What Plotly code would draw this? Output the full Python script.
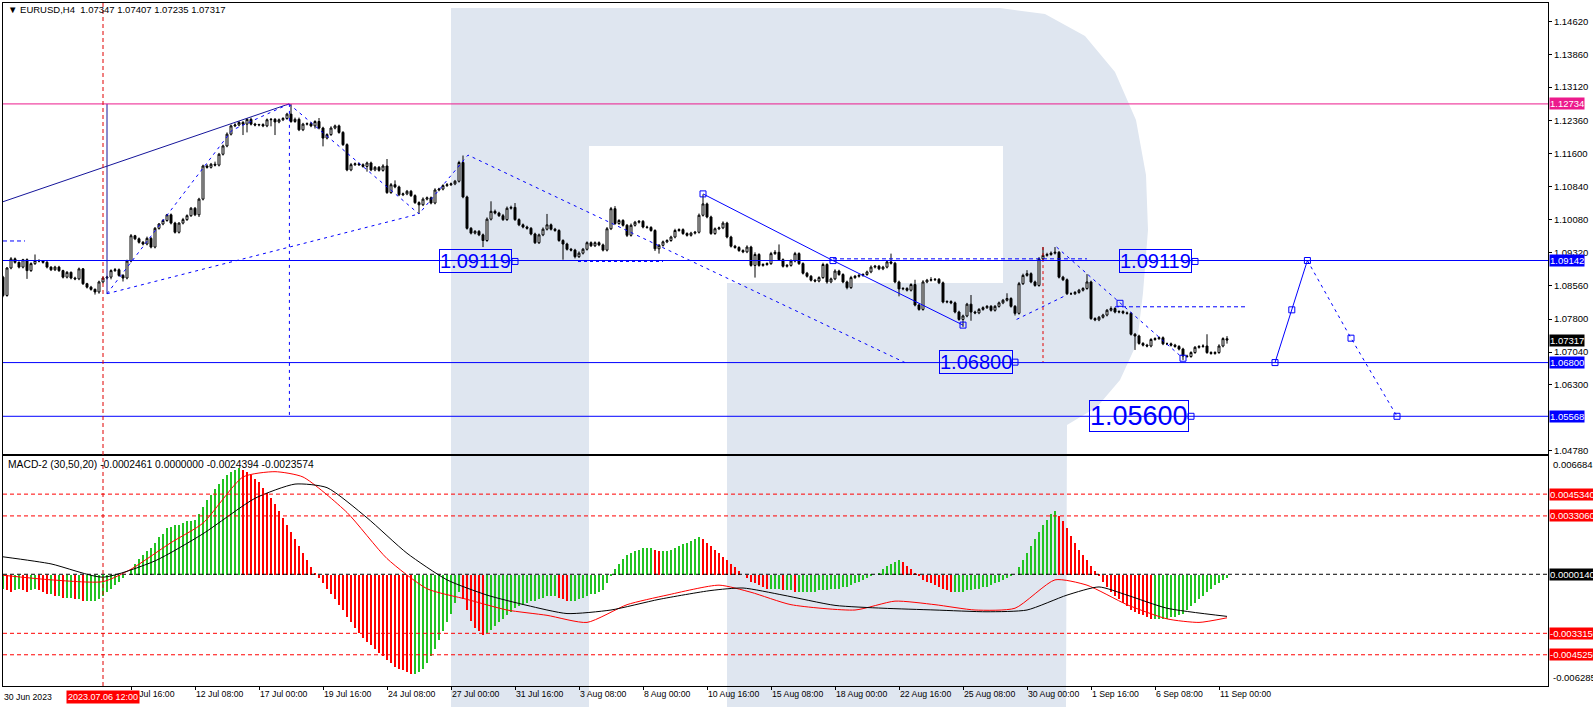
import plotly.graph_objects as go

# ---------------- data ----------------
# H4 candles, index 0 = 30 Jun 2023 00:00, 4-hour steps on trading days
first_index = 2
first_open = 1.0876
closes = [
    1.0834, 1.0897, 1.0918, 1.0910, 1.0899, 1.0916, 1.0891, 1.0907, 1.0914, 1.0913,
    1.0910, 1.0899, 1.0893, 1.0899, 1.0891, 1.0876, 1.0887, 1.0874, 1.0872, 1.0895,
    1.0861, 1.0853, 1.0848, 1.0842, 1.0865, 1.0874, 1.0876, 1.0891, 1.0893, 1.0880,
    1.0874, 1.0913, 1.0971, 1.0964, 1.0956, 1.0952, 1.0965, 1.0945, 1.0988, 1.0998,
    1.1006, 1.1019, 1.1000, 1.0979, 1.1000, 1.1008, 1.1017, 1.1034, 1.1019, 1.1055,
    1.1131, 1.1128, 1.1135, 1.1133, 1.1158, 1.1177, 1.1204, 1.1223, 1.1225, 1.1231,
    1.1227, 1.1238, 1.1227, 1.1225, 1.1226, 1.1223, 1.1237, 1.1238, 1.1232, 1.1237,
    1.1240, 1.1250, 1.1233, 1.1238, 1.1214, 1.1227, 1.1228, 1.1223, 1.1233, 1.1218,
    1.1195, 1.1203, 1.1218, 1.1223, 1.1208, 1.1180, 1.1122, 1.1134, 1.1136, 1.1134,
    1.1130, 1.1138, 1.1122, 1.1128, 1.1121, 1.1131, 1.1070, 1.1088, 1.1083, 1.1065,
    1.1067, 1.1073, 1.1063, 1.1047, 1.1042, 1.1055, 1.1058, 1.1046, 1.1076, 1.1078,
    1.1086, 1.1088, 1.1090, 1.1096, 1.1139, 1.1060, 1.0988, 1.0977, 1.0981, 1.0973,
    1.0960, 1.1009, 1.1027, 1.1023, 1.1017, 1.1008, 1.1034, 1.1036, 1.1008, 1.0996,
    1.0991, 1.0988, 1.0975, 1.0955, 1.0973, 1.0986, 1.0996, 1.0986, 1.0983, 1.0960,
    1.0952, 1.0940, 1.0938, 1.0923, 1.0931, 1.0940, 1.0955, 1.0948, 1.0955, 1.0950,
    1.0938, 1.0987, 1.1033, 1.0999, 1.1006, 1.0995, 1.0972, 1.0995, 1.1002, 1.1004,
    1.0991, 1.0990, 1.0983, 1.0941, 1.0949, 1.0957, 1.0960, 1.0968, 1.0983, 1.0985,
    1.0976, 1.0972, 1.0977, 1.0979, 1.1018, 1.1044, 1.1014, 1.0976, 1.0987, 1.0989,
    1.1000, 1.0968, 1.0947, 1.0944, 1.0937, 1.0934, 1.0945, 1.0903, 1.0928, 1.0903,
    1.0905, 1.0907, 1.0930, 1.0933, 1.0916, 1.0901, 1.0903, 1.0913, 1.0930, 1.0907,
    1.0885, 1.0878, 1.0869, 1.0867, 1.0875, 1.0905, 1.0865, 1.0872, 1.0890, 1.0882,
    1.0865, 1.0852, 1.0875, 1.0878, 1.0880, 1.0882, 1.0888, 1.0899, 1.0901, 1.0895,
    1.0899, 1.0911, 1.0908, 1.0865, 1.0849, 1.0850, 1.0846, 1.0859, 1.0812, 1.0802,
    1.0865, 1.0869, 1.0870, 1.0871, 1.0863, 1.0819, 1.0820, 1.0817, 1.0796, 1.0779,
    1.0787, 1.0814, 1.0796, 1.0794, 1.0802, 1.0806, 1.0809, 1.0800, 1.0809, 1.0817,
    1.0823, 1.0827, 1.0809, 1.0793, 1.0861, 1.0880, 1.0884, 1.0865, 1.0857, 1.0918,
    1.0926, 1.0928, 1.0931, 1.0933, 1.0876, 1.0870, 1.0838, 1.0838, 1.0841, 1.0846,
    1.0850, 1.0865, 1.0781, 1.0778, 1.0784, 1.0789, 1.0800, 1.0804, 1.0796, 1.0797,
    1.0794, 1.0793, 1.0745, 1.0741, 1.0724, 1.0720, 1.0718, 1.0733, 1.0735, 1.0737,
    1.0723, 1.0723, 1.0720, 1.0717, 1.0711, 1.0695, 1.0694, 1.0703, 1.0715, 1.0717,
    1.0718, 1.0703, 1.0701, 1.0703, 1.0718, 1.0735, 1.07317,
]
wick_up_pips = [
    3, 2, 4, 3, 2, 2, 3, 3, 14, 3,
    2, 3, 2, 3, 3, 2, 3, 2, 3, 3,
    2, 2, 3, 2, 3, 3, 3, 3, 4, 3,
    3, 3, 4, 2, 3, 3, 4, 3, 3, 2,
    3, 2, 3, 3, 2, 4, 3, 3, 3, 3,
    3, 4, 3, 6, 3, 3, 4, 3, 4, 3,
    3, 3, 4, 3, 2, 3, 3, 3, 3, 3,
    3, 3, 23, 4, 4, 3, 3, 4, 3, 8,
    3, 3, 4, 3, 3, 3, 3, 4, 3, 3,
    3, 3, 3, 3, 3, 4, 16, 4, 10, 3,
    3, 3, 3, 3, 3, 4, 3, 3, 4, 3,
    3, 4, 3, 3, 4, 16, 3, 3, 3, 3,
    3, 4, 23, 4, 3, 4, 4, 4, 10, 3,
    3, 3, 3, 3, 3, 4, 25, 3, 3, 3,
    3, 3, 3, 3, 4, 3, 3, 3, 3, 3,
    3, 4, 4, 6, 3, 3, 3, 4, 3, 3,
    3, 3, 3, 3, 3, 3, 3, 3, 4, 3,
    3, 3, 3, 3, 4, 22, 3, 3, 3, 3,
    4, 3, 3, 3, 3, 3, 4, 3, 5, 3,
    3, 3, 4, 5, 18, 3, 3, 4, 4, 3,
    3, 3, 3, 3, 3, 4, 3, 3, 4, 3,
    3, 3, 4, 3, 3, 3, 3, 4, 3, 3,
    3, 4, 19, 3, 3, 3, 3, 3, 11, 3,
    4, 3, 6, 3, 3, 3, 3, 3, 3, 3,
    3, 3, 21, 3, 3, 3, 3, 3, 3, 3,
    3, 12, 3, 3, 4, 4, 8, 3, 3, 4,
    19, 4, 4, 12, 3, 3, 3, 3, 3, 3,
    3, 18, 3, 3, 3, 3, 3, 5, 3, 3,
    3, 3, 3, 3, 3, 3, 3, 3, 3, 3,
    3, 3, 3, 3, 3, 3, 3, 3, 3, 3,
    4, 27, 3, 3, 4, 3, 6,
]
wick_dn_pips = [
    4, 3, 3, 3, 3, 3, 19, 3, 3, 3,
    3, 3, 3, 3, 3, 3, 3, 3, 3, 3,
    3, 3, 3, 6, 4, 3, 3, 5, 3, 3,
    8, 3, 3, 3, 3, 3, 3, 3, 3, 3,
    3, 3, 3, 3, 3, 3, 3, 3, 3, 5,
    3, 3, 3, 3, 3, 3, 3, 3, 3, 3,
    25, 19, 3, 3, 3, 3, 3, 15, 30, 3,
    3, 3, 3, 3, 3, 3, 3, 3, 6, 3,
    19, 3, 3, 3, 3, 3, 3, 3, 3, 3,
    3, 12, 3, 3, 3, 3, 3, 3, 3, 3,
    3, 3, 3, 3, 21, 3, 3, 3, 3, 3,
    3, 3, 3, 3, 3, 3, 3, 3, 3, 3,
    15, 3, 3, 3, 3, 3, 3, 3, 3, 3,
    3, 3, 3, 3, 3, 3, 3, 3, 3, 3,
    36, 3, 3, 4, 3, 3, 3, 3, 3, 3,
    3, 3, 3, 3, 3, 3, 4, 3, 3, 3,
    3, 3, 3, 5, 11, 3, 3, 3, 3, 3,
    3, 3, 3, 3, 3, 3, 3, 3, 3, 3,
    3, 3, 3, 3, 3, 3, 3, 3, 28, 3,
    3, 3, 3, 3, 3, 3, 3, 3, 3, 3,
    3, 3, 3, 3, 3, 3, 4, 3, 3, 3,
    3, 4, 3, 3, 3, 3, 3, 3, 3, 3,
    3, 3, 3, 3, 17, 3, 3, 3, 3, 3,
    3, 3, 3, 3, 3, 3, 3, 3, 3, 3,
    17, 3, 20, 3, 3, 3, 3, 3, 3, 3,
    3, 3, 3, 5, 3, 3, 3, 3, 3, 3,
    3, 3, 3, 3, 3, 3, 3, 3, 3, 3,
    3, 3, 3, 3, 3, 3, 3, 3, 3, 3,
    3, 3, 3, 32, 3, 3, 3, 3, 3, 3,
    3, 3, 3, 3, 3, 9, 3, 3, 3, 3,
    3, 3, 3, 3, 3, 3, 8,
]

# MACD-2 histogram per candle, in units of 1e-4
macd_hist_e4 = [
    -8, -9, -10, -9, -8, -9, -10, -9, -8, -9, -10,
    -11, -11, -12, -12, -13, -13, -13, -14, -14, -15, -15, -15, -15, -14,
    -12, -10, -8, -6, -4, -2, 0, 3,
    6, 9, 11, 13, 15, 18, 21, 23, 26, 27, 28, 28, 29, 30, 30, 31,
    34, 38, 42, 45, 48, 51, 54, 56, 58, 59, 60,
    59, 58, 56, 54, 52, 49, 46, 43, 40, 36, 32, 28, 24, 20, 16, 12, 8, 4, 1,
    -2, -5, -8, -11, -14, -17, -20, -24, -27, -30, -33, -36, -38, -40, -42, -44, -46, -48, -50, -52,
    -53, -54, -55, -56, -56, -55,
    -53, -50, -46, -42, -37, -32, -27, -22, -16, -10,
    -14, -20, -26, -30, -32, -34, -33, -31,
    -29, -27, -25, -23, -21, -19, -18, -17, -16, -15, -15, -14, -13, -12, -12, -12, -13, -14, -15, -15,
    -15, -14, -13, -12, -11, -11, -10, -9, -5,
    -1, 3, 6, 9, 11, 12, 13, 14, 15, 15, 15, 14, 13, 13, 13, 14, 15, 16, 17, 18, 19, 20, 21,
    20, 18, 16, 14, 12, 10, 8, 6, 4, 2, 0, -2, -4,
    -5, -6, -7, -8, -8, -8, -8, -9, -9, -9, -10, -10, -10, -10, -10, -10, -9, -9, -9, -8,
    -8, -8, -7, -7, -6, -5, -4, -3, -2, -1, 0, 1, 3,
    5, 6, 7, 8, 7, 5, 3, 1,
    -1, -3, -4, -5, -6, -7, -8, -9, -10, -10, -10, -10, -9, -9, -8, -8, -7, -7, -6, -5, -4, -3, -2, -1, 0,
    4, 8, 12, 16, 20, 24, 28, 31, 34, 36,
    33, 30, 26, 22, 18, 14, 11, 8, 5, 2, -1,
    -4, -7, -10, -12, -14, -16, -18, -20, -21, -22, -23, -24, -25, -25, -25, -25, -25, -24, -24, -23, -22,
    -20, -18, -16, -14, -12, -10, -8, -6, -5, -3, -2,
]
macd_black_idx = [2, 14, 27, 40, 52, 65, 75, 83, 93, 103, 113, 123, 133, 143, 154, 166, 179, 187,
                  197, 210, 222, 235, 248, 258, 268, 276, 283, 293, 308]
macd_black_e4 = [10, 6, -1.5, 7.7, 23, 43, 51, 49, 32, 12, -3, -11.6, -17.4, -22, -20, -14, -9, -7.6,
                 -11.6, -17.4, -19, -20, -21, -20, -11.6, -7, -11.6, -19, -23.6]
macd_red_idx = [2, 14, 27, 34, 44, 52, 62, 70, 77, 88, 98, 108, 118, 128, 138, 148, 158, 168, 181,
                189, 199, 215, 225, 235, 245, 255, 265, 273, 283, 293, 301, 308]
macd_red_e4 = [-0.4, -3, -4, 3, 18, 29, 55, 58, 55, 35, 9, -8, -14, -20, -23, -27, -17, -11.6, -6,
               -10, -17, -20, -15, -17, -20, -19, -3, -6, -17, -25, -27, -24.4]

# axes
price_min, price_max = 1.04703, 1.15049
price_ticks = [1.14620, 1.13860, 1.13120, 1.12360, 1.11600, 1.10840, 1.10080,
               1.09320, 1.08560, 1.07800, 1.07040, 1.06300, 1.04780]
price_tick_text = ["%.5f" % v for v in price_ticks]
macd_max, macd_min = 0.0066841, -0.0062857
date_tick_idx = [34, 50, 66, 82, 98, 114, 130, 146, 162, 178, 194, 210, 226, 242, 258, 274, 290, 306]
date_tick_text = ["7 Jul 16:00", "12 Jul 08:00", "17 Jul 00:00", "19 Jul 16:00", "24 Jul 08:00",
                  "27 Jul 00:00", "31 Jul 16:00", "3 Aug 08:00", "8 Aug 00:00", "10 Aug 16:00",
                  "15 Aug 08:00", "18 Aug 00:00", "22 Aug 16:00", "25 Aug 08:00", "30 Aug 00:00",
                  "1 Sep 16:00", "6 Sep 08:00", "11 Sep 00:00"]
x_range = [2, 388.25]

# horizontal levels
level_pink = 1.12734
levels_blue = [1.09142, 1.06800, 1.05568]
last_price = 1.07317
macd_levels_red = [0.0045340, 0.0033060, -0.0033150, -0.0045250]
macd_levels_red_text = ["0.0045340", "0.0033060", "-0.0033150", "-0.0045250"]
macd_level_zero = 0.0000140

# analyst drawings (candle index, price)
navy_line = ([2, 73.5], [1.1049, 1.12734])
navy_vert = ([28, 28], [1.12734, 1.0838])
wave_up = ([28, 59.25, 73.5], [1.0838, 1.1213, 1.12734])
wave_down = ([73.5, 106, 118.25, 227.5], [1.12734, 1.1021, 1.1156, 1.0680])
wave_base = ([28, 106], [1.0838, 1.1021])
top_vert = ([73.6, 73.6], [1.12734, 1.05568])
dotted_lvl1 = ([145.75, 167], [1.0912, 1.0912])
dotted_lvl2 = ([209.5, 273], [1.0918, 1.0918])
rise_dash = ([255.4, 267.9], [1.0779, 1.0835])
fall_dash = ([265.4, 281.25, 297], [1.0945, 1.0816, 1.0690])
dash_lvl3 = ([280, 313], [1.0808, 1.0808])
left_stub = ([2, 7.5], [1.0959, 1.0959])
channel_solid = ([177, 209.5, 242], [1.1067, 1.0914, 1.0766])
fcst_solid = ([320, 324.2, 328.1], [1.0680, 1.0801, 1.09142])
fcst_dash = ([328.1, 339, 350.5], [1.09142, 1.0736, 1.05568])
red_vert1_idx = 27
red_vert2 = ([262, 262], [1.0945, 1.0680])
marker_pts = ([177, 209.5, 242, 320, 324.2, 328.1, 339, 350.5, 281.25, 297, 130, 300, 255, 299],
              [1.1067, 1.0914, 1.0766, 1.0680, 1.0801, 1.09142, 1.0736, 1.05568, 1.0816, 1.0690,
               1.0912, 1.0912, 1.0681, 1.05568])
target_text = ["1.09119", "1.09119", "1.06800", "1.05600"]
target_x = [111, 281, 236, 273.5]
target_y = [1.0913, 1.0913, 1.0682, 1.05568]
target_size = [20, 20, 20, 27]

# ---------------- build ----------------
W, H = 1593, 707
ML, MR, MT, MB = 3, 45, 3, 21
PH = H - MT - MB


def paper_y(py):
    return (H - MB - py) / PH


def paper_x(px):
    return (px - ML) / (W - ML - MR)


idx = list(range(first_index, first_index + len(closes)))
opens = [first_open] + closes[:-1]
opens[-1] = 1.07347
highs = [max(o, c) + u * 1e-4 for o, c, u in zip(opens, closes, wick_up_pips)]
lows = [min(o, c) - d * 1e-4 for o, c, d in zip(opens, closes, wick_dn_pips)]
highs[-1], lows[-1] = 1.07407, 1.07235

hist = [v * 1e-4 for v in macd_hist_e4]
hist_idx = list(range(first_index, first_index + len(hist)))
hist_col = []
prev = None
for v in hist:
    hist_col.append("#22c322" if (prev is None or v >= prev) else "#ff0000")
    prev = v

FONT = "Liberation Sans, Arial, sans-serif"
BLUE = "#0000ff"
NAVY = "#15159a"
fig = go.Figure()

fig.add_trace(go.Candlestick(
    x=idx, open=opens, high=highs, low=lows, close=closes,
    increasing=dict(line=dict(color="black", width=1), fillcolor="white"),
    decreasing=dict(line=dict(color="black", width=1), fillcolor="black"),
    whiskerwidth=0, xaxis="x", yaxis="y", hoverinfo="skip", showlegend=False))


def line(pts, color, dash=None, width=1):
    fig.add_trace(go.Scatter(x=pts[0], y=pts[1], mode="lines", xaxis="x", yaxis="y",
                             line=dict(color=color, width=width, dash=dash),
                             hoverinfo="skip", showlegend=False))


D = "3px,4px"
line(navy_line, NAVY)
line(navy_vert, NAVY)
line(wave_up, BLUE, D)
line(wave_down, BLUE, D)
line(wave_base, BLUE, D)
line(top_vert, BLUE, D)
line(dotted_lvl1, BLUE, "3px,3px")
line(dotted_lvl2, BLUE, "4px,3px")
line(rise_dash, BLUE, D)
line(fall_dash, BLUE, D)
line(dash_lvl3, BLUE, "4px,3px")
line(left_stub, BLUE, "4px,3px")
line(channel_solid, BLUE)
line(fcst_solid, BLUE)
line(fcst_dash, BLUE, D)
line(red_vert2, "#e00000", "3px,3px")
fig.add_trace(go.Scatter(x=marker_pts[0], y=marker_pts[1], mode="markers", xaxis="x", yaxis="y",
                         marker=dict(symbol="square-open", size=6, color=BLUE, line=dict(width=1)),
                         hoverinfo="skip", showlegend=False))

# MACD pane
fig.add_trace(go.Bar(x=hist_idx, y=hist, marker=dict(color=hist_col, line=dict(width=0)),
                     width=0.55, xaxis="x2", yaxis="y2", hoverinfo="skip", showlegend=False))
fig.add_trace(go.Scatter(x=macd_red_idx, y=[v * 1e-4 for v in macd_red_e4], mode="lines",
                         line=dict(color="#ff0000", width=1, shape="spline", smoothing=0.6),
                         xaxis="x2", yaxis="y2", hoverinfo="skip", showlegend=False))
fig.add_trace(go.Scatter(x=macd_black_idx, y=[v * 1e-4 for v in macd_black_e4], mode="lines",
                         line=dict(color="#000000", width=1, shape="spline", smoothing=0.6),
                         xaxis="x2", yaxis="y2", hoverinfo="skip", showlegend=False))

# logo (decorative background "R")
logo_px = [(451, 8), (1000, 8), (1045, 14), (1085, 36), (1115, 72), (1136, 120), (1146, 175),
           (1148, 230), (1143, 293), (1137, 343), (1120, 380), (1097, 407), (1067, 425),
           (1066, 707), (727, 707), (727, 283), (1003, 283), (1003, 146), (589, 146),
           (589, 707), (451, 707)]
path = "M " + " L ".join("%.5f,%.5f" % (paper_x(x), paper_y(y)) for x, y in logo_px) + " Z"
shapes = [dict(type="path", xref="paper", yref="paper", path=path, fillcolor="#dfe6f0",
               line=dict(width=0), layer="below")]

shapes.append(dict(type="line", xref="paper", x0=0, x1=1, yref="y", y0=level_pink, y1=level_pink,
                   line=dict(color="#ec1a8c", width=1)))
for lv in levels_blue:
    shapes.append(dict(type="line", xref="paper", x0=0, x1=1, yref="y", y0=lv, y1=lv,
                       line=dict(color=BLUE, width=1)))
for lv in macd_levels_red:
    shapes.append(dict(type="line", xref="paper", x0=0, x1=1, yref="y2", y0=lv, y1=lv,
                       line=dict(color="#ff0000", width=1, dash="4px,3px")))
shapes.append(dict(type="line", xref="paper", x0=0, x1=1, yref="y2", y0=macd_level_zero,
                   y1=macd_level_zero, line=dict(color="black", width=1, dash="4px,3px")))
shapes.append(dict(type="line", xref="x", x0=red_vert1_idx, x1=red_vert1_idx, yref="paper",
                   y0=0, y1=1, line=dict(color="#e00000", width=1, dash="4px,3px")))

ann = []
for t, x, y, s in zip(target_text, target_x, target_y, target_size):
    ann.append(dict(xref="x", yref="y", x=x, y=y, xanchor="left", yanchor="middle", text=t,
                    showarrow=False, font=dict(family=FONT, size=s, color=BLUE),
                    bordercolor=BLUE, borderwidth=1, borderpad=0))


def axis_box(yref, y, text, bg):
    ann.append(dict(xref="paper", x=1, xanchor="left", xshift=1, yref=yref, y=y,
                    yanchor="middle", text=text, showarrow=False, bgcolor=bg, borderpad=0,
                    font=dict(family=FONT, size=9.5, color="white")))


axis_box("y", level_pink, "1.12734", "#ec1a8c")
for lv in levels_blue:
    axis_box("y", lv, "%.5f" % lv, BLUE)
axis_box("y", last_price, "%.5f" % last_price, "#000000")
for lv, t in zip(macd_levels_red, macd_levels_red_text):
    axis_box("y2", lv, t, "#ff0000")
axis_box("y2", macd_level_zero, "0.0000140", "#000000")
ann.append(dict(xref="paper", x=1, xanchor="left", xshift=3, yref="y2", y=macd_max, yanchor="top",
                yshift=-1, text="0.0066841", showarrow=False,
                font=dict(family=FONT, size=9.5, color="black")))
ann.append(dict(xref="paper", x=1, xanchor="left", xshift=3, yref="y2", y=macd_min,
                yanchor="bottom", yshift=1, text="-0.0062857", showarrow=False,
                font=dict(family=FONT, size=9.5, color="black")))

ann.append(dict(xref="paper", yref="paper", x=paper_x(6), y=paper_y(10), xanchor="left",
                yanchor="middle", showarrow=False,
                text="\u25bc EURUSD,H4  1.07347 1.07407 1.07235 1.07317",
                font=dict(family=FONT, size=9.5, color="black")))
ann.append(dict(xref="paper", yref="paper", x=paper_x(6), y=paper_y(464), xanchor="left",
                yanchor="middle", showarrow=False,
                text="MACD-2 (30,50,20) -0.0002461 0.0000000 -0.0024394 -0.0023574",
                font=dict(family=FONT, size=10.3, color="black")))
ann.append(dict(xref="paper", yref="paper", x=paper_x(2), y=paper_y(697), xanchor="left",
                yanchor="middle", showarrow=False, text="30 Jun 2023",
                font=dict(family=FONT, size=8.7, color="black")))
ann.append(dict(xref="x2", yref="paper", x=red_vert1_idx, y=paper_y(697), xanchor="center",
                yanchor="middle", showarrow=False, text="2023.07.06 12:00", bgcolor="#ff0000",
                borderpad=1, font=dict(family=FONT, size=9, color="white")))

ax_common = dict(showgrid=False, zeroline=False, showline=True, mirror=True, linecolor="black",
                 linewidth=1)
fig.update_layout(
    width=W, height=H, margin=dict(l=ML, r=MR, t=MT, b=MB),
    paper_bgcolor="white", plot_bgcolor="rgba(0,0,0,0)",
    hovermode=False, showlegend=False, bargap=0,
    xaxis=dict(domain=[0, 1], range=x_range, anchor="y", showticklabels=False, ticks="",
               rangeslider=dict(visible=False), **ax_common),
    yaxis=dict(domain=[paper_y(454), 1], range=[price_min, price_max], side="right",
               tickvals=price_ticks, ticktext=price_tick_text, ticks="outside", ticklen=3,
               tickcolor="black", tickfont=dict(family=FONT, size=9.5, color="black"),
               **ax_common),
    xaxis2=dict(domain=[0, 1], range=x_range, anchor="y2", tickvals=date_tick_idx,
                ticktext=date_tick_text, ticks="outside", ticklen=3, tickcolor="black",
                ticklabelposition="outside right",
                tickfont=dict(family=FONT, size=8.7, color="black"), **ax_common),
    yaxis2=dict(domain=[0, paper_y(456)], range=[macd_min, macd_max], side="right",
                showticklabels=False, ticks="", **ax_common),
    shapes=shapes, annotations=ann,
)

fig.write_html("out.html", config={"displayModeBar": False},
               post_script="document.body.style.margin='0';document.body.style.overflow='hidden';")
